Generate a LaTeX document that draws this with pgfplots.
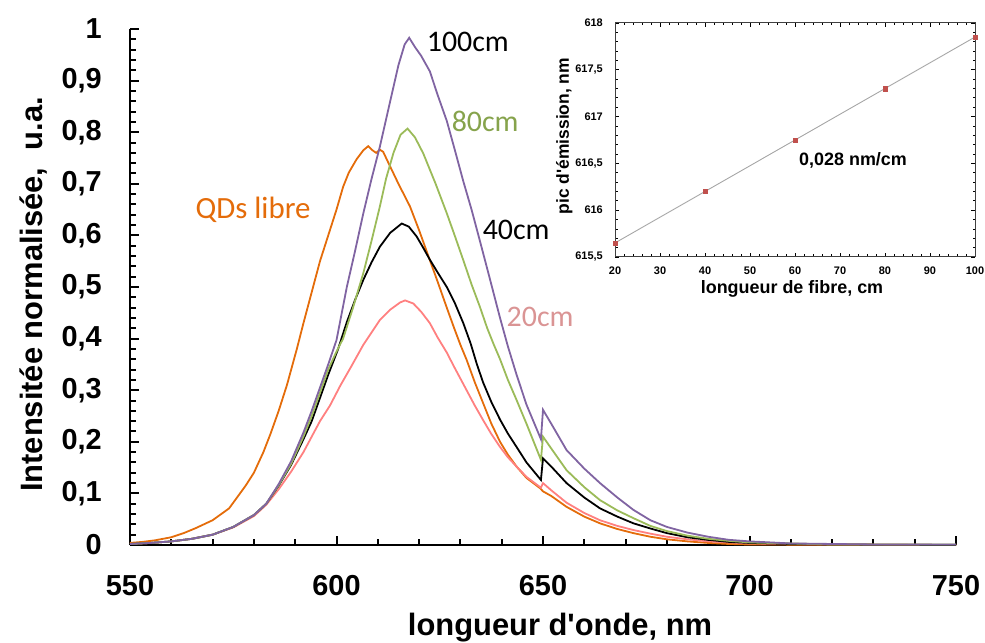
\documentclass[border=0pt]{standalone}
\usepackage{fontspec}
\setmainfont{Liberation Sans}[Ligatures=TeXOff]
\newfontfamily\calibri{Carlito}
\usepackage{pgfplots}
\pgfplotsset{compat=1.18}
\definecolor{cPurple}{HTML}{8064A2}
\definecolor{cGreen}{HTML}{9BBB59}
\definecolor{cGreenT}{HTML}{86A34C}
\definecolor{cPink}{HTML}{FF8080}
\definecolor{cPinkT}{HTML}{DA9494}
\definecolor{cOrange}{HTML}{E46C0A}
\definecolor{cRed}{HTML}{C0504D}
\begin{document}
\begin{tikzpicture}
\begin{axis}[
  at={(0,0)}, anchor=south west,
  scale only axis, width=826bp, height=516bp,
  xmin=550, xmax=750, ymin=0, ymax=1,
  axis x line*=bottom, axis y line*=left,
  axis line style={line width=2.5bp, black},
  xtick={550,600,650,700,750},
  ytick={0,0.1,0.2,0.3,0.4,0.5,0.6,0.7,0.8,0.9,1},
  minor x tick num=4, minor y tick num=4,
  tick align=inside,
  major tick length=9bp, minor tick length=6.5bp,
  every tick/.style={line width=2bp, black},
  /pgf/number format/assume math mode=true,
  /pgf/number format/use comma,
  ticklabel style={font=\bfseries\fontsize{29}{32}\selectfont, inner sep=0pt},
  xticklabel style={anchor=north, yshift=-30bp},
  yticklabel style={anchor=east, xshift=-28bp},
  xlabel={longueur d'onde, nm},
  xlabel style={font=\bfseries\fontsize{31}{34}\selectfont, at={(axis description cs:0.5206,0)}, anchor=base, yshift=-90bp, inner sep=0pt},
  ylabel={Intensitée normalisée,\ \ u.a.},
  ylabel style={font=\bfseries\fontsize{31}{34}\selectfont, at={(axis description cs:-0.1065,0.4855)}, anchor=base, inner sep=0pt},
  clip=false,
]
\addplot[cOrange, line width=1.8bp] coordinates {
(550,0.004)(553,0.006)(556,0.009)(560,0.015)(563,0.023)(566,0.033)(570,0.048)(574,0.071)(578,0.115)(580,0.14)(582.3,0.18)(584,0.215)(586,0.26)(588,0.31)(590.4,0.38)(592,0.43)(594,0.49)(596,0.55)(598.4,0.61)(600,0.65)(601.6,0.694)(603,0.722)(604.9,0.748)(606.5,0.765)(607.7,0.773)(608.7,0.765)(609.6,0.760)(610.5,0.766)(611.3,0.762)(612.9,0.735)(615,0.70)(617.8,0.656)(620,0.61)(622.6,0.552)(624.5,0.51)(626.7,0.46)(628.5,0.42)(630,0.388)(631.5,0.359)(633.5,0.315)(635.5,0.275)(637.5,0.235)(639.6,0.2)(641.5,0.175)(643.6,0.152)(646,0.13)(649.3,0.11)(650,0.104)(652,0.095)(655.7,0.074)(660,0.055)(663.8,0.042)(668,0.031)(671.9,0.023)(676,0.016)(680,0.011)(685,0.007)(690,0.004)(695,0.002)(700,0.001)(720,0.0005)(750,0)
};
\addplot[cPink, line width=1.8bp] coordinates {
(550,0.002)(555,0.004)(560,0.007)(565,0.012)(570,0.02)(575,0.034)(580,0.056)(583,0.078)(586,0.108)(589,0.142)(592,0.18)(594,0.21)(596,0.24)(598.4,0.27)(601,0.31)(603.5,0.345)(606.5,0.388)(608.5,0.412)(610.5,0.436)(613,0.456)(615.4,0.47)(616.6,0.474)(618.6,0.468)(620.5,0.452)(622.6,0.43)(624.5,0.402)(626.7,0.373)(628.5,0.345)(631.5,0.30)(633.5,0.27)(635.5,0.242)(637.5,0.215)(639.6,0.19)(641.5,0.17)(643.6,0.152)(646,0.132)(649.5,0.111)(650,0.12)(652,0.106)(655.7,0.082)(660,0.062)(663.8,0.048)(668,0.037)(671.9,0.029)(676,0.022)(680,0.016)(685,0.011)(690,0.007)(695,0.005)(700,0.003)(710,0.002)(720,0.001)(750,0)
};
\addplot[black, line width=1.8bp] coordinates {
(550,0.002)(555,0.004)(560,0.007)(565,0.012)(570,0.02)(575,0.035)(580,0.058)(583,0.08)(586,0.115)(589,0.155)(592,0.205)(594,0.24)(596,0.285)(598,0.33)(600.4,0.38)(602.5,0.432)(604.5,0.475)(606.5,0.514)(608.5,0.548)(610.5,0.578)(613,0.605)(615.8,0.623)(617.5,0.617)(619.4,0.598)(621,0.576)(622.6,0.553)(624.5,0.528)(626.7,0.50)(628.7,0.468)(630.7,0.43)(632.5,0.39)(634,0.35)(635.5,0.315)(637.5,0.277)(639.6,0.243)(641.5,0.216)(643.6,0.19)(646,0.16)(649.5,0.126)(650,0.168)(652,0.152)(655.7,0.12)(660,0.092)(663.8,0.071)(668,0.055)(671.9,0.042)(676,0.032)(680,0.023)(685,0.015)(690,0.01)(695,0.006)(700,0.004)(710,0.002)(720,0.001)(750,0)
};
\addplot[cGreen, line width=1.8bp] coordinates {
(550,0.002)(555,0.004)(560,0.007)(565,0.012)(570,0.02)(575,0.035)(580,0.058)(583,0.08)(586,0.116)(589,0.157)(592,0.21)(594,0.25)(596,0.295)(598,0.34)(600,0.375)(601.6,0.40)(604,0.46)(606.5,0.527)(608.5,0.59)(610.5,0.656)(612,0.71)(613.8,0.76)(615.5,0.795)(617.2,0.807)(619,0.79)(621,0.759)(624,0.70)(626.7,0.643)(628.7,0.598)(630.7,0.552)(632.7,0.505)(634.7,0.462)(636.5,0.42)(638,0.39)(639.6,0.36)(641.5,0.32)(643.6,0.281)(646,0.235)(649.5,0.165)(650,0.21)(652,0.187)(655.7,0.145)(660,0.112)(663.8,0.087)(668,0.067)(671.9,0.052)(676,0.037)(680,0.027)(685,0.018)(690,0.012)(695,0.008)(700,0.005)(710,0.003)(720,0.001)(750,0.001)
};
\addplot[cPurple, line width=1.8bp] coordinates {
(550,0.002)(555,0.004)(560,0.007)(565,0.012)(570,0.02)(575,0.035)(580,0.058)(583,0.08)(586,0.118)(589,0.162)(592,0.218)(594,0.26)(596,0.305)(598,0.35)(600,0.397)(602.5,0.50)(604.5,0.57)(606.5,0.643)(608.5,0.71)(610.5,0.772)(613,0.86)(615,0.93)(616.5,0.97)(617.6,0.983)(619,0.965)(620.5,0.948)(622.6,0.918)(624.5,0.872)(626.7,0.822)(628.5,0.77)(630.7,0.705)(632.7,0.65)(634.7,0.59)(637,0.52)(639.6,0.44)(641.5,0.385)(643.6,0.33)(646,0.272)(649.5,0.205)(650,0.262)(652,0.235)(655.7,0.184)(660,0.148)(663.8,0.12)(668,0.092)(671.9,0.068)(676,0.048)(680,0.035)(685,0.024)(690,0.016)(695,0.01)(700,0.007)(710,0.003)(720,0.002)(730,0.001)(750,0.001)
};
\node[font=\calibri\fontsize{30}{32}\selectfont, text=black] at (axis cs:631.8,0.975) {100cm};
\node[font=\calibri\fontsize{30}{32}\selectfont, text=cGreenT] at (axis cs:636.0,0.820) {80cm};
\node[font=\calibri\fontsize{30}{32}\selectfont, text=black] at (axis cs:643.5,0.610) {40cm};
\node[font=\calibri\fontsize{30}{32}\selectfont, text=cPinkT] at (axis cs:649.3,0.442) {20cm};
\node[font=\calibri\fontsize{31}{33}\selectfont, text=cOrange] at (axis cs:579.8,0.649) {QDs libre};
\end{axis}
\begin{axis}[
  at={(485bp,288bp)}, anchor=south west,
  scale only axis, width=360bp, height=234bp,
  xmin=20, xmax=100, ymin=615.5, ymax=618,
  xtick={20,30,40,50,60,70,80,90,100},
  ytick={615.5,616,616.5,617,617.5,618},
  minor x tick num=4, minor y tick num=4,
  tick align=inside,
  major tick length=4bp, minor tick length=2.5bp,
  axis line style={line width=1bp, black!75},
  every tick/.style={line width=0.8bp, black},
  /pgf/number format/assume math mode=true,
  /pgf/number format/use comma,
  ticklabel style={font=\bfseries\fontsize{11}{12}\selectfont, inner sep=0pt},
  xticklabel style={anchor=north, yshift=-10bp},
  yticklabel style={anchor=east, xshift=-12bp},
  xlabel={longueur de fibre, cm},
  xlabel style={font=\bfseries\fontsize{18}{20}\selectfont, at={(axis description cs:0.4917,0)}, anchor=base, yshift=-37bp, inner sep=0pt},
  ylabel={pic d'émission, nm},
  ylabel style={font=\bfseries\fontsize{17.5}{19}\selectfont, at={(axis description cs:-0.128,0.517)}, anchor=base, inner sep=0pt},
  clip=false,
]
\addplot[gray!70, line width=0.9bp] coordinates {(20,615.65) (100,617.85)};
\addplot[only marks, mark=square*, mark size=2.2bp, color=cRed] coordinates {
(20,615.65)(40,616.2)(60,616.75)(80,617.3)(100,617.85)
};
\node[font=\bfseries\fontsize{18}{20}\selectfont] at (axis cs:72.9,616.53) {0,028 nm/cm};
\end{axis}
\pgfresetboundingbox
\useasboundingbox (-130bp,-98bp) rectangle (855bp,545bp);
\end{tikzpicture}
\end{document}
